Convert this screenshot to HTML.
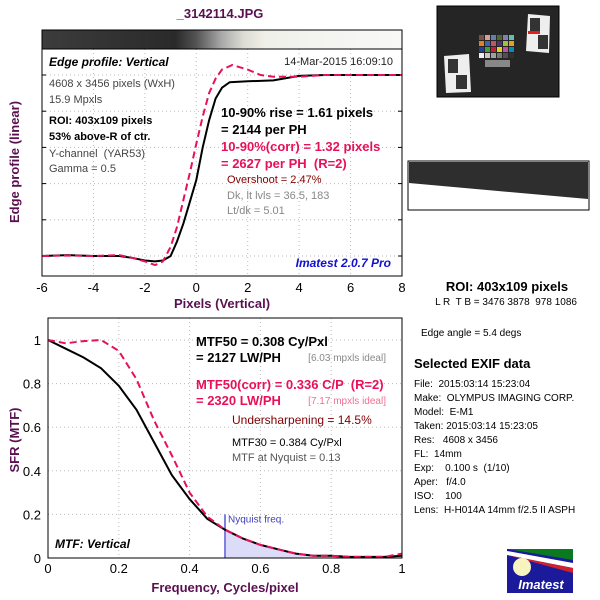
<!DOCTYPE html>
<html><head><meta charset="utf-8"><style>
body{margin:0;background:#fff;}
svg{display:block;font-family:"Liberation Sans",Arial,sans-serif;}
text{white-space:pre;}
</style></head><body>
<svg id="c" width="600" height="600" viewBox="0 0 600 600">
<defs>
<linearGradient id="strip" x1="0" x2="1" y1="0" y2="0">
<stop offset="0" stop-color="#3c3c3c"/><stop offset="0.37" stop-color="#2a2a2a"/>
<stop offset="0.43" stop-color="#555"/><stop offset="0.5" stop-color="#aaa"/>
<stop offset="0.56" stop-color="#dcdcd4"/><stop offset="0.62" stop-color="#f0f0ea"/>
<stop offset="1" stop-color="#f8f8f8"/></linearGradient>
</defs>
<text x="220" y="18" text-anchor="middle" font-size="13" font-weight="bold" fill="#5a1050">_3142114.JPG</text>
<rect x="42" y="30" width="360" height="19" fill="url(#strip)" stroke="#000" stroke-width="1"/>
<g id="topG"></g>
<g id="botG"></g>
<text transform="translate(19,162) rotate(-90)" text-anchor="middle" font-size="13" font-weight="bold" fill="#5a1050">Edge profile (linear)</text>
<text x="222" y="308" text-anchor="middle" font-size="13" font-weight="bold" fill="#5a1050">Pixels (Vertical)</text>
<text transform="translate(19,440) rotate(-90)" text-anchor="middle" font-size="13" font-weight="bold" fill="#5a1050">SFR (MTF)</text>
<text x="225" y="592" text-anchor="middle" font-size="13" font-weight="bold" fill="#5a1050">Frequency, Cycles/pixel</text>

<g font-size="11">
<text x="49" y="66" font-size="12" font-weight="bold" font-style="italic">Edge profile: Vertical</text>
<text x="393" y="65" text-anchor="end" fill="#222">14-Mar-2015 16:09:10</text>
<text x="49" y="87" fill="#444">4608 x 3456 pixels (WxH)</text>
<text x="49" y="103" fill="#444">15.9 Mpxls</text>
<text x="49" y="124" font-weight="bold">ROI: 403x109 pixels</text>
<text x="49" y="140" font-weight="bold">53% above-R of ctr.</text>
<text x="49" y="157" fill="#444">Y-channel  (YAR53)</text>
<text x="49" y="172" fill="#444">Gamma = 0.5</text>
<text x="221" y="117" font-size="13" font-weight="bold">10-90% rise = 1.61 pixels</text>
<text x="221" y="134" font-size="13" font-weight="bold">= 2144 per PH</text>
<text x="221" y="151" font-size="13" font-weight="bold" fill="#e8105a">10-90%(corr) = 1.32 pixels</text>
<text x="221" y="168" font-size="13" font-weight="bold" fill="#e8105a">= 2627 per PH  (R=2)</text>
<text x="227" y="183" fill="#800000">Overshoot = 2.47%</text>
<text x="227" y="199" fill="#888">Dk, lt lvls = 36.5, 183</text>
<text x="227" y="214" fill="#888">Lt/dk = 5.01</text>
<text x="391" y="267" text-anchor="end" font-size="12" font-weight="bold" font-style="italic" fill="#1010d0">Imatest 2.0.7 Pro</text>
</g>
<g font-size="12">
<text x="196" y="346" font-size="13" font-weight="bold">MTF50 = 0.308 Cy/Pxl</text>
<text x="196" y="362" font-size="13" font-weight="bold">= 2127 LW/PH</text>
<text x="386" y="361" text-anchor="end" font-size="10" fill="#888">[6.03 mpxls ideal]</text>
<text x="196" y="389" font-size="13" font-weight="bold" fill="#e8105a">MTF50(corr) = 0.336 C/P  (R=2)</text>
<text x="196" y="405" font-size="13" font-weight="bold" fill="#e8105a">= 2320 LW/PH</text>
<text x="386" y="404" text-anchor="end" font-size="10" fill="#f07090">[7.17 mpxls ideal]</text>
<text x="232" y="424" fill="#800000">Undersharpening = 14.5%</text>
<text x="232" y="446" font-size="11">MTF30 = 0.384 Cy/Pxl</text>
<text x="232" y="461" font-size="11" fill="#555">MTF at Nyquist = 0.13</text>
<text x="55" y="548" font-weight="bold" font-style="italic">MTF: Vertical</text>
</g>

<g>
<rect x="437" y="6" width="122" height="91" fill="#252525" stroke="#000"/>
<polygon points="444,56 469,54 471,92 446,93" fill="#eee"/>
<rect x="448" y="59" width="10" height="14" fill="#333"/><rect x="456" y="75" width="11" height="14" fill="#333"/>
<polygon points="528,14 550,16 549,53 526,51" fill="#eee"/>
<rect x="530" y="18" width="10" height="13" fill="#333"/><rect x="538" y="35" width="10" height="14" fill="#333"/>
<rect x="528" y="31" width="12" height="3" fill="#e02020"/>
<g id="checker"></g>
<rect x="485" y="60" width="25" height="7" fill="#888"/>
</g>
<g>
<rect x="408" y="161" width="181" height="49" fill="#fff" stroke="#000"/>
<polygon points="409,162 588,162 588,199 409,183" fill="#2e2e2e"/>
</g>
<text x="507" y="291" text-anchor="middle" font-size="13" font-weight="bold">ROI: 403x109 pixels</text>
<text x="506" y="305" text-anchor="middle" font-size="10">L R  T B = 3476 3878  978 1086</text>
<text x="421" y="336" font-size="10">Edge angle = 5.4 degs</text>
<g font-size="10">
<text x="414" y="368" font-size="13" font-weight="bold">Selected EXIF data</text>
<text x="414" y="387">File:  2015:03:14 15:23:04</text>
<text x="414" y="401">Make:  OLYMPUS IMAGING CORP.</text>
<text x="414" y="415">Model:  E-M1</text>
<text x="414" y="429">Taken: 2015:03:14 15:23:05</text>
<text x="414" y="443">Res:   4608 x 3456</text>
<text x="414" y="457">FL:  14mm</text>
<text x="414" y="471">Exp:    0.100 s  (1/10)</text>
<text x="414" y="485">Aper:   f/4.0</text>
<text x="414" y="499">ISO:    100</text>
<text x="414" y="513">Lens:  H-H014A 14mm f/2.5 II ASPH</text>
</g>
<g>
<rect x="507" y="549" width="66" height="44" fill="#1a1a9a"/>
<polygon points="507,549 573,549 573,560" fill="#0a7a20"/>
<polygon points="507,551 573,563 573,568 507,555" fill="#fff"/>
<polygon points="507,555 573,568 573,573" fill="#d02030"/>
<circle cx="522" cy="567" r="9" fill="#f8f4c0"/>
<text x="541" y="589" text-anchor="middle" font-size="13" font-weight="bold" font-style="italic" fill="#fff">Imatest</text>
</g>
</svg>
<script>
// Edge profile data (x in pixels, normalized level)
const edgeX = [-6,-5,-4,-3,-2.5,-2,-1.6,-1.3,-1,-0.75,-0.5,-0.25,0,0.25,0.5,0.75,1,1.3,2,3,4,5,6,7,8];
const edgeBlack = [0,0.005,0,0,-0.01,-0.025,-0.03,-0.025,0,0.08,0.18,0.3,0.42,0.6,0.75,0.87,0.93,0.96,0.965,0.97,0.995,1,1,1,1];
const edgeRedX = [-6,-5,-4,-3,-2.5,-2,-1.6,-1.3,-1,-0.75,-0.5,-0.25,0,0.25,0.5,0.75,1,1.4,2,2.5,3,4,5,6,7,8];
const edgeRed = [0,0.003,0,0.005,-0.01,-0.03,-0.05,-0.03,0.05,0.16,0.31,0.46,0.62,0.77,0.9,0.98,1.03,1.055,1.03,1.0,0.99,0.99,1,1,1,1];
const edgeXTicks = [-6,-4,-2,0,2,4,6,8];
const edgeYTicks = [0,0.2,0.4,0.6,0.8,1];
// MTF data
const freq = [0,0.05,0.1,0.15,0.2,0.25,0.3,0.35,0.4,0.45,0.5,0.55,0.6,0.65,0.7,0.75,0.8,0.85,0.9,0.95,1];
const mtfBlack = [1,0.96,0.92,0.87,0.79,0.68,0.53,0.38,0.27,0.18,0.13,0.09,0.06,0.04,0.02,0.01,0.01,0.005,0.005,0.005,0.01];
const mtfRed = [1,0.985,0.995,1.0,0.95,0.82,0.63,0.47,0.3,0.19,0.13,0.09,0.06,0.04,0.02,0.01,0.01,0.005,0.005,0.005,0.02];
const mtfXTicks = [0,0.2,0.4,0.6,0.8,1];
const mtfYTicks = [0,0.2,0.4,0.6,0.8,1];
const nyquist = 0.5;

const NS='http://www.w3.org/2000/svg';
function mk(tag,attrs,parent){const e=document.createElementNS(NS,tag);for(const k in attrs)e.setAttribute(k,attrs[k]);parent.appendChild(e);return e;}

// top plot axes
const tx = v => 42 + (v+6)*(360/14);
const ty = v => 256 - v*181;
const topG = document.getElementById('topG');
mk('rect',{x:42,y:49,width:360,height:227,fill:'#fff'},topG);
edgeXTicks.forEach(v=>{
  const g=mk('line',{x1:tx(v),x2:tx(v),y1:49,y2:276,stroke:'#bbb','stroke-dasharray':'1,3'},topG);
  
  
  const t=mk('text',{x:tx(v),y:292,'text-anchor':'middle','font-size':13},topG);
  t.textContent=v;
  
  
});
edgeYTicks.forEach(v=>{
  const g=mk('line',{x1:42,x2:402,y1:ty(v),y2:ty(v),stroke:'#bbb','stroke-dasharray':'1,3'},topG);
  
  
  mk('line',{x1:42,x2:46,y1:ty(v),y2:ty(v),stroke:'#000'},topG);
  mk('line',{x1:398,x2:402,y1:ty(v),y2:ty(v),stroke:'#000'},topG);
});
const pth=(xs,ys,fx,fy)=>xs.map((x,i)=>(i?'L':'M')+fx(x).toFixed(1)+','+fy(ys[i]).toFixed(1)).join('');
const eb=mk('path',{d:pth(edgeX,edgeBlack,tx,ty),fill:'none',stroke:'#000','stroke-width':2},topG);


const er=mk('path',{d:pth(edgeRedX,edgeRed,tx,ty),fill:'none',stroke:'#e8105a','stroke-width':2,'stroke-dasharray':'7,4'},topG);


const tb=mk('rect',{x:42,y:49,width:360,height:227,fill:'none',stroke:'#000'},topG);



// bottom plot
const bx = v => 48 + v*354;
const by = v => 558 - v*218;
const botG = document.getElementById('botG');
mtfXTicks.forEach(v=>{
  const g=mk('line',{x1:bx(v),x2:bx(v),y1:318,y2:558,stroke:'#bbb','stroke-dasharray':'1,3'},botG);
  
  
  const t=mk('text',{x:bx(v),y:573,'text-anchor':'middle','font-size':13},botG);
  t.textContent=v;
  
  
});
mtfYTicks.forEach(v=>{
  const g=mk('line',{x1:48,x2:402,y1:by(v),y2:by(v),stroke:'#bbb','stroke-dasharray':'1,3'},botG);
  
  
  const t=mk('text',{x:41,y:by(v)+5,'text-anchor':'end','font-size':13},botG);
  t.textContent=v;
  
  
});
// nyquist shaded area
let fd='M'+bx(nyquist)+','+by(0);
freq.forEach((f,i)=>{ if(f>=nyquist) fd+='L'+bx(f).toFixed(1)+','+by(mtfBlack[i]).toFixed(1); });
fd+='L'+bx(1)+','+by(0)+'Z';
const fa=mk('path',{d:fd,fill:'#dcdcf8'},botG);


const nl=mk('line',{x1:bx(nyquist),x2:bx(nyquist),y1:by(0),y2:by(0.2),stroke:'#8080e0','stroke-width':2},botG);


const nt=mk('text',{x:bx(nyquist)+3,y:by(0.2)+8,'font-size':10,fill:'#4040c0'},botG);
nt.textContent='Nyquist freq.';


const mb=mk('path',{d:pth(freq,mtfBlack,bx,by),fill:'none',stroke:'#000','stroke-width':2},botG);


const mr=mk('path',{d:pth(freq,mtfRed,bx,by),fill:'none',stroke:'#e8105a','stroke-width':2,'stroke-dasharray':'7,4'},botG);


const bb=mk('rect',{x:48,y:318,width:354,height:240,fill:'none',stroke:'#000'},botG);



// checker chart in thumbnail
const cols=['#7a5040','#d8a090','#6080b0','#506830','#8080b8','#60c0b0','#e08020','#4060b0','#c85060','#503070','#a0c040','#e0a020','#2040a0','#40a040','#c02030','#e8d020','#c050a0','#0090b0','#f0f0f0','#c8c8c8','#a0a0a0','#787878','#505050','#303030'];
const ck=document.getElementById('checker');
cols.forEach((c,i)=>{ mk('rect',{x:479+(i%6)*6,y:35+Math.floor(i/6)*6,width:5,height:5,fill:c},ck); });
</script>
</body></html>
